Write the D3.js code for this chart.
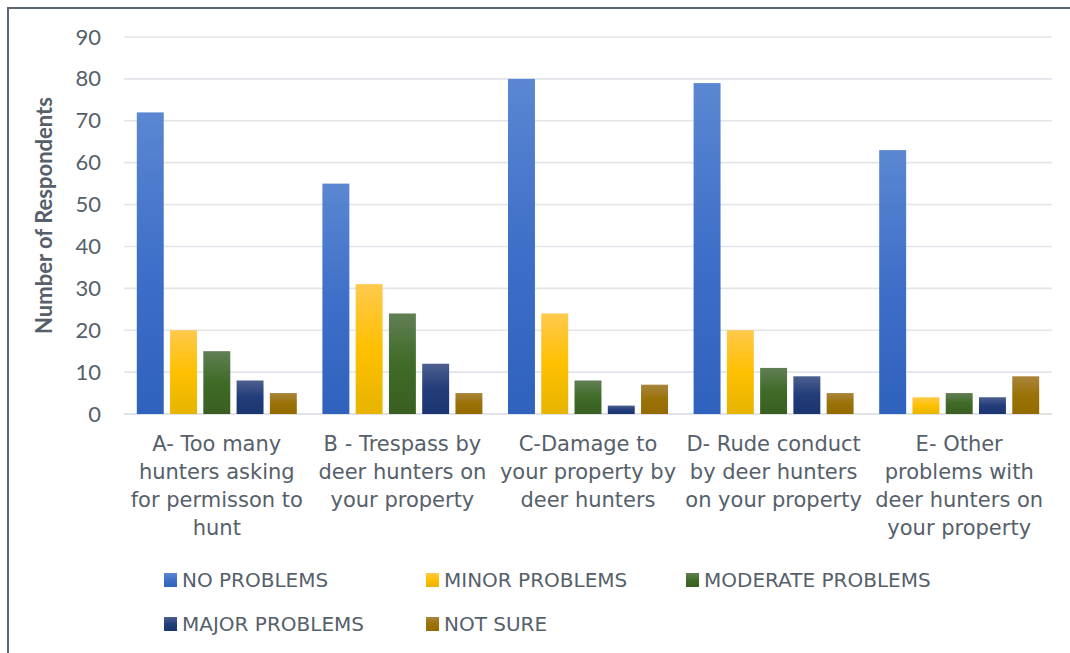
<!DOCTYPE html>
<html>
<head>
<meta charset="utf-8">
<script src="https://cdn.jsdelivr.net/npm/d3@7"></script>
<style>
  body { margin: 0; background: #fff; }
  #chartDiv { width: 1070px; height: 653px; }
</style>
</head>
<body>
<div id="chartDiv"></div>
<script>
//chart data
var categories = ["A", "B", "C", "D", "E"];
var categoryLabels = [
    ["A- Too many", "hunters asking", "for permisson to", "hunt"],
    ["B - Trespass by", "deer hunters on", "your property"],
    ["C-Damage to", "your property by", "deer hunters"],
    ["D- Rude conduct", "by deer hunters", "on your property"],
    ["E- Other", "problems with", "deer hunters on", "your property"]
];
var seriesNames = ["NO PROBLEMS", "MINOR PROBLEMS", "MODERATE PROBLEMS", "MAJOR PROBLEMS", "NOT SURE"];
var noProblems = [72, 55, 80, 79, 63];
var minorProblems = [20, 31, 24, 20, 4];
var moderateProblems = [15, 24, 8, 11, 5];
var majorProblems = [8, 12, 2, 9, 4];
var notSure = [5, 5, 7, 5, 9];
var yTicks = [0, 10, 20, 30, 40, 50, 60, 70, 80, 90];

var seriesValues = [noProblems, minorProblems, moderateProblems, majorProblems, notSure];

//gradient stops per series: top, middle, bottom
var seriesColors = [
    ["#5b87d2", "#3f6fc8", "#2f62bd"],
    ["#ffc94d", "#ffc000", "#e6b400"],
    ["#617f55", "#3f6b27", "#3a5e22"],
    ["#4d5f8f", "#223d7a", "#1b3570"],
    ["#a9853d", "#9a7206", "#946b00"]
];

var svgWidth = 1070, svgHeight = 653;
var plotLeft = 124, plotRight = 1052, plotTop = 37, plotBottom = 414;
var textColor = "#56606b";

var svg = d3.select("#chartDiv")
    .append("svg")
    .attr("width", svgWidth)
    .attr("height", svgHeight);

//gradients
var defs = svg.append("defs");
seriesColors.forEach(function(c, i){
    var g = defs.append("linearGradient")
        .attr("id", "grad" + i)
        .attr("x1", 0).attr("y1", 0).attr("x2", 0).attr("y2", 1);
    g.append("stop").attr("offset", "0%").attr("stop-color", c[0]);
    g.append("stop").attr("offset", "50%").attr("stop-color", c[1]);
    g.append("stop").attr("offset", "100%").attr("stop-color", c[2]);
});

//frame (left and top edges only visible)
svg.append("path")
    .attr("d", "M8," + svgHeight + " V8 H" + svgWidth)
    .attr("fill", "none")
    .attr("stroke", "#5c6670")
    .attr("stroke-width", 2);

//scales
var x0 = d3.scaleBand()
    .domain(categories)
    .range([plotLeft, plotRight]);

var x1 = d3.scaleBand()
    .domain(d3.range(seriesNames.length))
    .range([12.8, x0.bandwidth() - 12.8])
    .paddingInner(0.19);

var y = d3.scaleLinear()
    .domain([0, 90])
    .range([plotBottom, plotTop]);

//gridlines
svg.append("g")
    .selectAll("line")
    .data(yTicks)
    .enter().append("line")
    .attr("x1", plotLeft)
    .attr("x2", plotRight)
    .attr("y1", function(d){ return y(d); })
    .attr("y2", function(d){ return y(d); })
    .attr("stroke", function(d){ return d === 0 ? "#d6dbe1" : "#e1e5ea"; })
    .attr("stroke-width", 1.6);

//y axis labels
var yAxis = d3.axisLeft(y).tickValues(yTicks).tickSize(0).tickPadding(0);
var yAxisG = svg.append("g")
    .attr("transform", "translate(101,0)")
    .call(yAxis);
yAxisG.select(".domain").remove();
yAxisG.selectAll("text")
    .attr("fill", textColor)
    .style("font-family", "Lato, 'Open Sans', sans-serif")
    .style("font-size", "22px");

//y title
svg.append("text")
    .attr("transform", "translate(52," + ((plotTop + plotBottom) / 2 - 10) + ") rotate(-90)")
    .attr("text-anchor", "middle")
    .attr("fill", textColor)
    .style("font-family", "Lato, 'Open Sans', sans-serif")
    .style("font-weight", "bold")
    .style("font-size", "22px")
    .text("Number of Respondents");

//bars
var groups = svg.append("g")
    .selectAll("g")
    .data(categories)
    .enter().append("g")
    .attr("transform", function(d){ return "translate(" + x0(d) + ",0)"; });

groups.selectAll("rect")
    .data(function(d, ci){
        return seriesValues.map(function(vals, si){ return {series: si, value: vals[ci]}; });
    })
    .enter().append("rect")
    .attr("x", function(d){ return x1(d.series); })
    .attr("width", x1.bandwidth())
    .attr("y", function(d){ return y(d.value); })
    .attr("height", function(d){ return y(0) - y(d.value); })
    .attr("fill", function(d){ return "url(#grad" + d.series + ")"; });

//category labels
var labelG = svg.append("g")
    .selectAll("text")
    .data(categories)
    .enter().append("text")
    .attr("x", function(d){ return x0(d) + x0.bandwidth() / 2; })
    .attr("y", 451)
    .attr("text-anchor", "middle")
    .attr("fill", textColor)
    .style("font-family", "'DejaVu Sans', sans-serif")
    .style("font-size", "21px");

labelG.selectAll("tspan")
    .data(function(d, i){ return categoryLabels[i]; })
    .enter().append("tspan")
    .attr("x", function(){ var p = this.parentNode; return p.getAttribute("x"); })
    .attr("dy", function(d, i){ return i === 0 ? 0 : 28; })
    .text(function(d){ return d; });

//legend
var legendCols = [164, 426, 686];
var legendRows = [573, 617];
var legend = svg.append("g")
    .selectAll("g")
    .data(seriesNames)
    .enter().append("g")
    .attr("transform", function(d, i){
        return "translate(" + legendCols[i % 3] + "," + legendRows[Math.floor(i / 3)] + ")";
    });

legend.append("rect")
    .attr("width", 13)
    .attr("height", 14)
    .attr("fill", function(d, i){ return "url(#grad" + i + ")"; });

legend.append("text")
    .attr("x", 18)
    .attr("y", 14)
    .attr("fill", textColor)
    .style("font-family", "'DejaVu Sans', sans-serif")
    .style("font-size", "20px")
    .text(function(d){ return d; });
</script>
</body>
</html>
